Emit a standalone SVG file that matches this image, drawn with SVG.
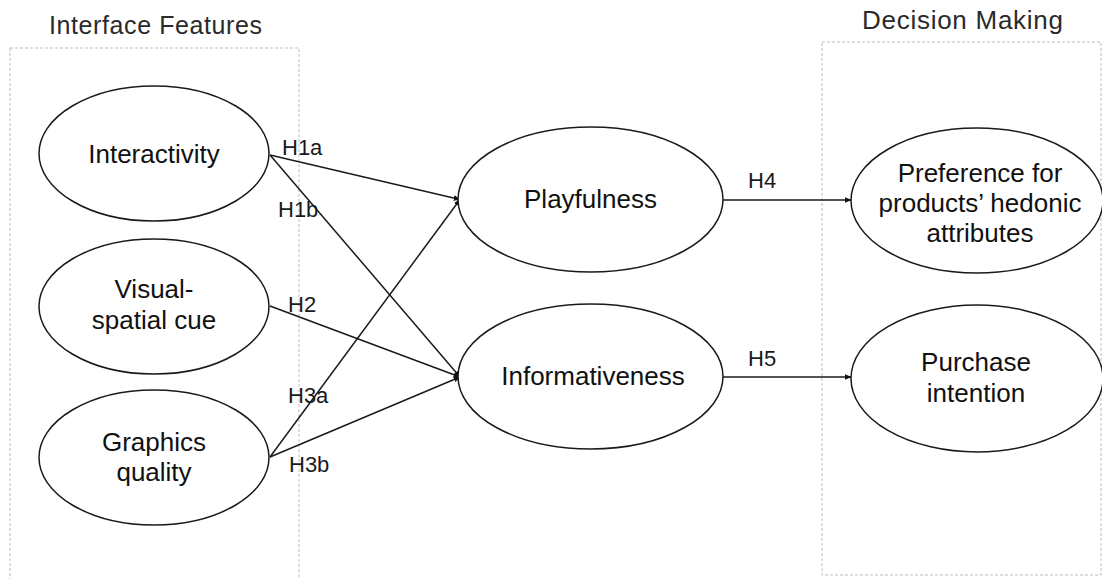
<svg xmlns="http://www.w3.org/2000/svg" width="1102" height="579" viewBox="0 0 1102 579">
<style>
.box{fill:none;stroke:#bdbdbd;stroke-width:1;stroke-dasharray:3 2}
.title{font-family:"Liberation Sans",Arial,sans-serif;font-size:25px;fill:#2a2a2a}
.node ellipse{fill:#fff;stroke:#1a1a1a;stroke-width:1.5}
.node text{font-family:"Liberation Sans",Arial,sans-serif;font-size:26px;fill:#111;text-anchor:middle}
.edge{stroke:#1a1a1a;stroke-width:1.5;fill:none;marker-end:url(#arr)}
.lbl{font-family:"Liberation Sans",Arial,sans-serif;font-size:22px;fill:#1a1a1a}
</style>
<defs>
<marker id="arr" viewBox="0 0 10 10" refX="9" refY="5" markerWidth="7" markerHeight="7" orient="auto" markerUnits="userSpaceOnUse">
<path d="M0,1 L10,5 L0,9 z" fill="#111"/>
</marker>
</defs>
<rect width="1102" height="579" fill="#fff"/>
<g id="groups">
<rect class="box" x="10" y="48" width="289" height="560"/>
<rect class="box" x="822" y="42" width="279" height="533"/>
<text class="title" x="49" y="34" textLength="213">Interface Features</text>
<text class="title" x="862" y="29" textLength="201" style="font-size:26px">Decision Making</text>
</g>
<g id="connectors">
<line class="edge" x1="270" y1="155" x2="460" y2="199.5"/>
<line class="edge" x1="270" y1="155" x2="460" y2="377"/>
<line class="edge" x1="270" y1="306" x2="460" y2="377"/>
<line class="edge" x1="270" y1="457" x2="460" y2="199.5"/>
<line class="edge" x1="270" y1="457" x2="460" y2="377"/>
<line class="edge" x1="723" y1="200" x2="851" y2="200"/>
<line class="edge" x1="723" y1="377" x2="851" y2="377"/>
<text class="lbl" x="282" y="155">H1a</text>
<text class="lbl" x="278" y="217">H1b</text>
<text class="lbl" x="288" y="312">H2</text>
<text class="lbl" x="288" y="403">H3a</text>
<text class="lbl" x="289" y="472">H3b</text>
<text class="lbl" x="748" y="188">H4</text>
<text class="lbl" x="748" y="366">H5</text>
</g>
<g id="interactivity" class="node">
<ellipse cx="154" cy="153.5" rx="115" ry="67.5"/>
<text x="154" y="163">Interactivity</text>
</g>
<g id="visual-spatial" class="node">
<ellipse cx="154" cy="306.5" rx="115" ry="67.5"/>
<text x="154" y="298">Visual-</text>
<text x="154" y="329">spatial cue</text>
</g>
<g id="graphics" class="node">
<ellipse cx="154" cy="457.5" rx="115" ry="67.5"/>
<text x="154" y="451">Graphics</text>
<text x="154" y="481">quality</text>
</g>
<g id="playfulness" class="node">
<ellipse cx="590.5" cy="199.5" rx="132.5" ry="72.5"/>
<text x="590.5" y="208">Playfulness</text>
</g>
<g id="informativeness" class="node">
<ellipse cx="590.5" cy="376.5" rx="132.5" ry="72.5"/>
<text x="593" y="385">Informativeness</text>
</g>
<g id="preference" class="node">
<ellipse cx="977" cy="200.5" rx="126" ry="72.5"/>
<text x="980" y="182">Preference for</text>
<text x="980" y="212">products’ hedonic</text>
<text x="980" y="242">attributes</text>
</g>
<g id="purchase" class="node">
<ellipse cx="977" cy="378.5" rx="126" ry="73.5"/>
<text x="976" y="371">Purchase</text>
<text x="976" y="402">intention</text>
</g>
</svg>
